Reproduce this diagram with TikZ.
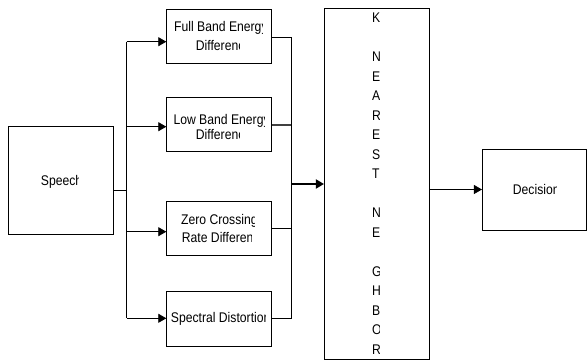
\documentclass[tikz,border=0pt]{standalone}
\usepackage{fontspec}
\setmainfont{Liberation Sans}[FakeStretch=0.87]
\usetikzlibrary{arrows.meta}
\tikzset{
  blk/.style={draw=black, line width=0.8pt, rectangle, inner sep=0pt, minimum width=105pt},
  lbl/.style={inner sep=0pt, anchor=base west, font=\fontsize{14pt}{16pt}\selectfont, text=black},
  wire/.style={draw=black, line width=0.8pt},
  arr/.style={wire, -{Triangle[length=8pt,width=9pt]}},
}
\newcommand\cltext[5]{%
  \begin{scope}
    \clip (#2-3,#3-16) rectangle (#4,#3+5);
    \node[lbl] (#1) at (#2,#3) {#5};
  \end{scope}}
\begin{document}
\begin{tikzpicture}[x=1pt,y=-1pt]
\useasboundingbox (0,0) rectangle (587,363);
% boxes
\node[blk, minimum height=108pt] (speech) at (60.5,180) {};
\node[blk, minimum height=54pt] (full) at (219.2,36.3) {};
\node[blk, minimum height=54pt] (low) at (219.2,124.7) {};
\node[blk, minimum height=54.3pt] (zero) at (219.2,228.2) {};
\node[blk, minimum height=54.3pt] (spec) at (219.2,318.8) {};
\node[blk, minimum width=104.7pt, minimum height=350.7pt] (knn) at (376.7,183.7) {};
\node[blk, minimum width=103.7pt, minimum height=81pt] (dec) at (534.2,189.5) {};
% labels (clipped as in the reference)
\cltext{tspeech}{40.7}{185.5}{78}{Speech}
\cltext{tfull1}{174}{31.5}{262}{Full Band Energy}
\cltext{tfull2}{195.7}{50.5}{239}{Difference}
\cltext{tlow1}{173.3}{125}{264}{Low Band Energy}
\cltext{tlow2}{195.7}{140}{239}{Difference}
\cltext{tzero1}{181}{224.7}{254.5}{Zero Crossing}
\cltext{tzero2}{181.7}{243}{251}{Rate Difference}
\cltext{tspec}{170.7}{323}{265}{Spectral Distortion}
\cltext{tdec}{512.7}{195}{556.5}{Decision}
\foreach \ch [count=\i from 0] in {K,,N,E,A,R,E,S,T,,N,E,,G,H,B,O,R}{%
  \cltext{tk\i}{372}{23+19.5*\i}{379}{\ch}
}
% junction coordinates
\coordinate (bs) at (126.7,190);
\coordinate (bt) at (126.7,41.7);
\coordinate (bl) at (126.7,126.7);
\coordinate (bz) at (126.7,231.7);
\coordinate (bb) at (126.7,318.3);
\coordinate (jt) at (291.7,37.3);
\coordinate (jl) at (291.7,125.5);
\coordinate (jz) at (291.7,228.3);
\coordinate (jb) at (291.7,318.3);
\coordinate (jm) at (291.7,184);
% left tree
\draw[wire] (speech.east |- bs) -- (bs);
\draw[wire] (bt) -- (bb);
\draw[arr] (bt) -- (full.west |- bt);
\draw[arr] (bl) -- (low.west |- bl);
\draw[arr] (bz) -- (zero.west |- bz);
\draw[arr] (bb) -- (spec.west |- bb);
% right tree
\draw[wire] (full.east |- jt) -- (jt);
\draw[wire, draw=black!75, line width=2pt] (low.east |- jl) -- (jl);
\draw[wire] (zero.east |- jz) -- (jz);
\draw[wire] (spec.east |- jb) -- (jb);
\draw[wire] (jt) -- (jb);
\draw[arr, line width=1.8pt] (jm) -- (knn.west |- jm);
\draw[arr] (knn.east |- dec.west) -- (dec.west);
\end{tikzpicture}
\end{document}
